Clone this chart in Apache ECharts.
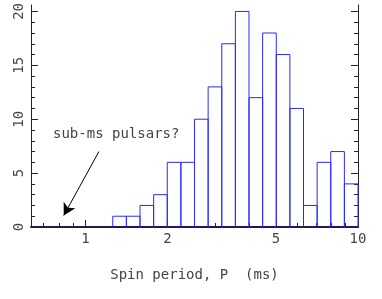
<!DOCTYPE html>
<html><head><meta charset="utf-8">
<script src="https://cdn.jsdelivr.net/npm/echarts@6/dist/echarts.min.js"></script>
<style>html,body{margin:0;padding:0;background:#fff}#c{width:382px;height:299px}</style>
</head><body><div id="c"></div>
<script>
// Histogram bins: lower edges in log10(P / ms), each 0.05 dex wide
const binLowerLog10 = [0.10,0.15,0.20,0.25,0.30,0.35,0.40,0.45,0.50,0.55,0.60,0.65,0.70,0.75,0.80,0.85,0.90,0.95];
const binWidthLog10 = 0.05;
const counts = [1,1,2,3,6,6,10,13,17,20,12,18,16,11,2,6,7,4];
// Tick values (ms / counts)
const xMajorTicks = [1,2,5,10];
const xMinorTicks = [0.7,0.8,0.9,3,4,6,7,8,9];
const yMajorTicks = [0,5,10,15,20];
const yMinorTicks = [1,2,3,4,6,7,8,9,11,12,13,14,16,17,18,19];
const xName = 'Spin period, P  (ms)';
const noteText = 'sub-ms pulsars?';
const arrowFrom = [1.12, 7.0];   // [ms, count]
const arrowTo = [0.832, 1.06];   // [ms, count]

const txt = '#444';
const font = 'DejaVu Sans Mono';
const chart = echarts.init(document.getElementById('c'), null, {renderer:'canvas'});
const lg = v => Math.log10(v);
const xBase = {type:'value', min:-0.2, max:1, position:'bottom', splitLine:{show:false}};
const yBase = {type:'value', min:0, max:20.6, splitLine:{show:false}};
chart.setOption({
  animation:false,
  backgroundColor:'#fff',
  grid:{left:31, right:24, top:0, bottom:72, containLabel:false},
  xAxis:[
    Object.assign({}, xBase, {
      axisLine:{show:true, onZero:false, lineStyle:{color:'#1c1c55', width:2}},
      axisTick:{show:true, inside:true, length:7, customValues:xMajorTicks.map(lg), lineStyle:{color:'#222'}},
      axisLabel:{show:true, customValues:xMajorTicks.map(lg), formatter:v=>String(Math.round(Math.pow(10,v))), margin:5, fontSize:14, color:txt, fontFamily:font},
      name:xName, nameLocation:'middle', nameGap:41,
      nameTextStyle:{fontSize:14, color:txt, fontFamily:font}
    }),
    Object.assign({}, xBase, {
      axisLine:{show:false, onZero:false},
      axisTick:{show:true, inside:true, length:4, customValues:xMinorTicks.map(lg), lineStyle:{color:'#222'}},
      axisLabel:{show:false}
    })
  ],
  yAxis:[
    Object.assign({}, yBase, {
      position:'left',
      axisLine:{show:true, onZero:false, lineStyle:{color:'#222', width:1}},
      axisTick:{show:true, inside:true, length:7, customValues:yMajorTicks, lineStyle:{color:'#222'}},
      axisLabel:{show:true, customValues:yMajorTicks, rotate:90, margin:5, fontSize:14, color:txt, fontFamily:font}
    }),
    Object.assign({}, yBase, {
      position:'left',
      axisLine:{show:false, onZero:false},
      axisTick:{show:true, inside:true, length:4, customValues:yMinorTicks, lineStyle:{color:'#222'}},
      axisLabel:{show:false}
    }),
    Object.assign({}, yBase, {
      position:'right',
      axisLine:{show:true, onZero:false, lineStyle:{color:'#222', width:1}},
      axisTick:{show:true, inside:true, length:7, customValues:yMajorTicks, lineStyle:{color:'#222'}},
      axisLabel:{show:false}
    }),
    Object.assign({}, yBase, {
      position:'right',
      axisLine:{show:false, onZero:false},
      axisTick:{show:true, inside:true, length:4, customValues:yMinorTicks, lineStyle:{color:'#222'}},
      axisLabel:{show:false}
    })
  ],
  series:[
    {
      type:'custom', xAxisIndex:0, yAxisIndex:0, silent:true,
      data: binLowerLog10.map((lo,i)=>[lo, lo+binWidthLog10, counts[i]]),
      renderItem:function(params, api){
        const lo = api.value(0), hi = api.value(1), c = api.value(2);
        const pts = [api.coord([lo,0]), api.coord([lo,c]), api.coord([hi,c]), api.coord([hi,0])];
        return {type:'polyline', shape:{points:pts}, style:{stroke:'#2a2aff', fill:null, lineWidth:1}};
      }
    },
    {
      type:'scatter', xAxisIndex:0, yAxisIndex:0, data:[], silent:true,
      markLine:{
        silent:true, symbol:['none','arrow'], symbolSize:[10,12],
        lineStyle:{color:'#000', width:1, type:'solid'},
        label:{show:false},
        data:[[{coord:[lg(arrowFrom[0]), arrowFrom[1]]},{coord:[lg(arrowTo[0]), arrowTo[1]]}]]
      }
    }
  ],
  graphic:[
    {type:'text', left:53, top:127, style:{text:noteText, font:'14px "DejaVu Sans Mono"', fill:txt}}
  ]
});
</script></body></html>
